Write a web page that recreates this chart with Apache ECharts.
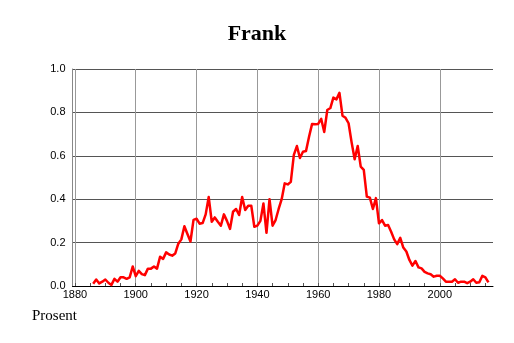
<!DOCTYPE html>
<html>
<head>
<meta charset="utf-8">
<script src="https://cdn.jsdelivr.net/npm/echarts@6/dist/echarts.min.js"></script>
<style>html,body{margin:0;padding:0;background:#fff}#c{width:514px;height:343px}</style>
</head>
<body>
<div id="c"></div>
<script>
const startYear = 1886;
const values = [
0.010,0.030,0.012,0.020,0.030,0.015,0.005,0.033,0.020,0.040,
0.040,0.033,0.040,0.090,0.045,0.070,0.055,0.050,0.080,0.080,
0.090,0.080,0.135,0.125,0.155,0.145,0.140,0.150,0.195,0.215,
0.275,0.240,0.205,0.305,0.310,0.287,0.290,0.330,0.410,0.296,
0.316,0.296,0.278,0.330,0.300,0.263,0.342,0.355,0.327,0.410,
0.350,0.370,0.370,0.273,0.278,0.300,0.380,0.245,0.400,0.278,
0.304,0.355,0.400,0.473,0.468,0.480,0.604,0.645,0.590,0.619,
0.622,0.688,0.747,0.745,0.747,0.770,0.710,0.811,0.820,0.868,
0.860,0.890,0.785,0.775,0.750,0.662,0.584,0.645,0.550,0.535,
0.412,0.407,0.355,0.405,0.289,0.304,0.278,0.281,0.250,0.215,
0.193,0.222,0.177,0.159,0.120,0.094,0.115,0.086,0.081,0.065,
0.058,0.054,0.043,0.047,0.047,0.035,0.020,0.020,0.020,0.031,
0.015,0.020,0.020,0.013,0.020,0.031,0.015,0.017,0.047,0.040,
0.017
];
const years = values.map((v, i) => startYear + i);
const xLabelYears = [1880, 1900, 1920, 1940, 1960, 1980, 2000];
const xMinorYears = [];
for (let y = 1880; y <= 2015; y += 5) xMinorYears.push(y);

const chart = echarts.init(document.getElementById('c'), null, {renderer: 'canvas'});
const xMin = 1879.2, xMax = 2017.5;
chart.setOption({
  animation: false,
  title: {
    text: 'Frank', left: 'center', top: 18,
    textStyle: {fontFamily: 'Liberation Serif', fontWeight: 'bold', fontSize: 22, color: '#000'}
  },
  graphic: [{
    type: 'text', left: 32, top: 309,
    style: {text: 'Prosent', font: '15px "Liberation Serif"', fill: '#000'}
  }],
  grid: {left: 72.5, right: 21, top: 69, bottom: 57, containLabel: false},
  xAxis: [{
    type: 'value', min: xMin, max: xMax,
    axisLine: {show: true, lineStyle: {color: '#000', width: 1}},
    axisTick: {show: false, customValues: xLabelYears},
    axisLabel: {customValues: xLabelYears, formatter: v => String(Math.round(v)), fontFamily: 'Liberation Sans', fontSize: 11, color: '#000', margin: 3, showMinLabel: true, showMaxLabel: true},
    splitLine: {show: true, lineStyle: {color: '#999', width: 1}}
  }, {
    type: 'value', min: xMin, max: xMax, position: 'bottom',
    axisLine: {show: false},
    axisTick: {show: true, inside: true, length: 3, customValues: xMinorYears, lineStyle: {color: '#555'}},
    axisLabel: {show: false},
    splitLine: {show: false}
  }],
  yAxis: {
    type: 'value', min: 0, max: 1, interval: 0.2,
    axisLine: {show: true, lineStyle: {color: '#888', width: 1}},
    axisTick: {show: false},
    axisLabel: {formatter: v => v.toFixed(1), fontFamily: 'Liberation Sans', fontSize: 11, color: '#000', margin: 7},
    splitLine: {show: true, lineStyle: {color: '#555', width: 1}}
  },
  series: [{
    type: 'line', xAxisIndex: 0,
    data: years.map((y, i) => [y, values[i]]),
    showSymbol: false, symbol: 'none',
    lineStyle: {color: '#ff0000', width: 2.5, join: 'round'},
    z: 5
  }]
});
</script>
</body>
</html>
